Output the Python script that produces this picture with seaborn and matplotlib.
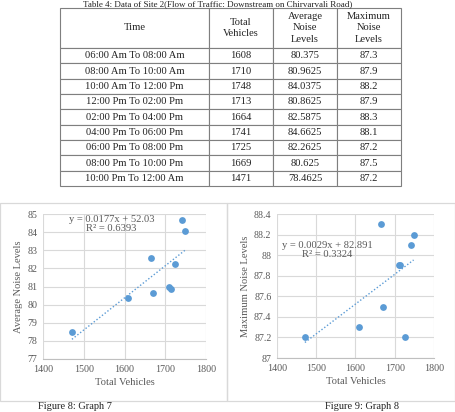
import numpy as np
import pandas as pd
import matplotlib
matplotlib.use('Agg')
import matplotlib.pyplot as plt
from matplotlib.patches import Rectangle
import seaborn as sns

# table / chart data
times = ['06:00 Am To 08:00 Am', '08:00 Am To 10:00 Am', '10:00 Am To 12:00 Pm',
         '12:00 Pm To 02:00 Pm', '02:00 Pm To 04:00 Pm', '04:00 Pm To 06:00 Pm',
         '06:00 Pm To 08:00 Pm', '08:00 Pm To 10:00 Pm', '10:00 Pm To 12:00 Am']
total_vehicles = [1608, 1710, 1748, 1713, 1664, 1741, 1725, 1669, 1471]
avg_noise = [80.375, 80.9625, 84.0375, 80.8625, 82.5875, 84.6625, 82.2625, 80.625, 78.4625]
max_noise = [87.3, 87.9, 88.2, 87.9, 88.3, 88.1, 87.2, 87.5, 87.2]
headers = ['Time', 'Total\nVehicles', 'Average\nNoise\nLevels', 'Maximum\nNoise\nLevels']
table_title = 'Table 4: Data of Site 2(Flow of Traffic: Downstream on Chirvarvali Road)'

df = pd.DataFrame({'Total Vehicles': total_vehicles,
                   'Average Noise Levels': avg_noise,
                   'Maximum Noise Levels': max_noise})

sns.set_style('white')
plt.rcParams['font.family'] = ['Liberation Serif', 'DejaVu Serif']

W, H = 456, 412
fig = plt.figure(figsize=(W / 100, H / 100), dpi=100)
fig.patch.set_facecolor('white')

def rect(x0, y0, x1, y1):
    # pixel box (top-left origin) -> figure fraction rect
    return [x0 / W, 1 - y1 / H, (x1 - x0) / W, (y1 - y0) / H]

# title sits right at the top edge, like the scan
fig.text(0.5 - 10 / W, 1 - 0.5 / H, table_title, ha='center', va='top',
         fontsize=6.5, color='#222222')

# table
tax = fig.add_axes(rect(60, 8, 401, 186))
tax.axis('off')
rows = [[t, str(v), f'{a:g}', f'{m:g}'] for t, v, a, m in
        zip(times, total_vehicles, avg_noise, max_noise)]
tbl = tax.table(cellText=rows, colLabels=headers, cellLoc='center',
                bbox=[0, 0, 1, 1])
tbl.auto_set_font_size(False)
tbl.set_fontsize(7.6)
col_w = [149, 64, 64, 64]
for (r, c), cell in tbl.get_celld().items():
    cell.set_width(col_w[c] / 341)
    cell.set_height(40 / 178 if r == 0 else 138 / 9 / 178)
    cell.set_edgecolor('#7f7f7f')
    cell.set_linewidth(0.8)
    cell.get_text().set_color('#222222')
    cell.get_text().set_linespacing(1.3)

# chart frames
for x0, x1 in [(0.5, 227), (227, 455.5)]:
    fig.patches.append(Rectangle((x0 / W, 1 - 401 / H), (x1 - x0) / W, (401 - 203) / H,
                                 transform=fig.transFigure, fill=False,
                                 edgecolor='#d9d9d9', linewidth=0.9))

blue = '#5b9bd5'
grey = '#595959'
charts = [
    ('Average Noise Levels', rect(43, 214, 206, 359), (77, 85), np.arange(77, 85.5, 1),
     'y = 0.0177x + 52.03\nR² = 0.6393', (0.42, 0.995), 'Figure 8: Graph 7', 75),
    ('Maximum Noise Levels', rect(277, 214, 434, 358), (87, 88.4), np.arange(87, 88.45, 0.2),
     'y = 0.0029x + 82.891\nR² = 0.3324', (0.32, 0.815), 'Figure 9: Graph 8', 362),
]
for ycol, r, ylim, yticks, eq, eqpos, cap, capx in charts:
    ax = fig.add_axes(r)
    sns.regplot(data=df, x='Total Vehicles', y=ycol, scatter=False, ci=None, ax=ax,
                line_kws=dict(color=blue, ls=(0, (1, 1.5)), lw=1))
    sns.scatterplot(data=df, x='Total Vehicles', y=ycol, ax=ax, color=blue,
                    s=24, edgecolor=blue, linewidth=0, zorder=3)
    ax.set_xlim(1400, 1800)
    ax.set_ylim(*ylim)
    ax.set_xticks([1400, 1500, 1600, 1700, 1800])
    ax.set_yticks(yticks)
    ax.set_yticklabels([f'{v:g}' for v in np.round(yticks, 1)])
    ax.grid(True, color='#d9d9d9', lw=0.8)
    ax.set_axisbelow(True)
    for s in ['top', 'right', 'left']:
        ax.spines[s].set_visible(False)
    ax.spines['bottom'].set_color('#bfbfbf')
    ax.spines['bottom'].set_linewidth(0.8)
    ax.tick_params(length=0, labelsize=7.2, colors=grey, pad=4)
    ax.set_xlabel('Total Vehicles', fontsize=7.6, color=grey, labelpad=3)
    ax.set_ylabel(ycol, fontsize=7.6, color=grey, labelpad=3)
    ax.text(eqpos[0], eqpos[1], eq, transform=ax.transAxes, ha='center', va='top',
            fontsize=7.6, color=grey, linespacing=1.05)
    fig.text(capx / W, 1 / H, cap, ha='center', va='bottom', fontsize=7.5,
             color='#222222')

fig.savefig('out.png', dpi=100, facecolor='white')
